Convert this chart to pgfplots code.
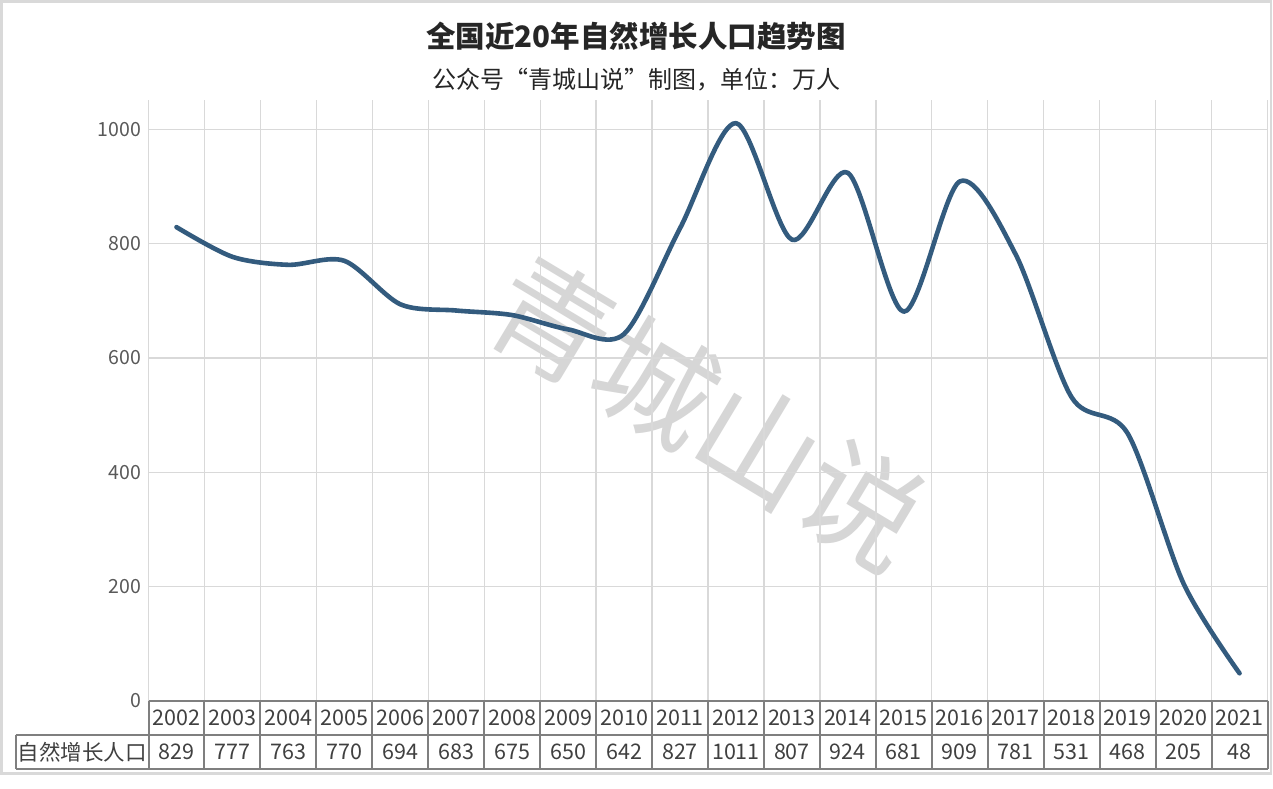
\documentclass[border=0pt]{standalone}
\usepackage{pgfplots}
\pgfplotsset{compat=1.18}
\usepackage{pgfplotstable}
\usepackage{fontspec}
\setmainfont{Noto Sans CJK SC}
\definecolor{linec}{HTML}{335B7E}
\definecolor{gridc}{HTML}{D9D9D9}
\definecolor{tabc}{HTML}{7F7F7F}
\definecolor{tickc}{HTML}{595959}
\definecolor{txtc}{HTML}{404040}
\definecolor{wmc}{HTML}{D6D6D6}

\pgfplotstableread{
x year val
0 2002 829
1 2003 777
2 2004 763
3 2005 770
4 2006 694
5 2007 683
6 2008 675
7 2009 650
8 2010 642
9 2011 827
10 2012 1011
11 2013 807
12 2014 924
13 2015 681
14 2016 909
15 2017 781
16 2018 531
17 2019 468
18 2020 205
19 2021 48
}\datatable

\begin{document}
\begin{tikzpicture}[x=1pt,y=1pt]
% canvas and outer frame
\path[use as bounding box] (0,0) rectangle (1273,-788);
\fill[white] (0,0) rectangle (1273,-788);
\draw[gridc, line width=2.5pt] (1.25,-1.25) rectangle (1271,-773.5);
% title
\node[font=\fontsize{29.5}{34}\selectfont\bfseries, text=black!85] at (636,-36) {全国近20年自然增长人口趋势图};
\node[font=\fontsize{24}{28}\selectfont, text=black!85] at (636,-80) {公众号“青城山说”制图，单位：万人};
% watermark
\node[font=\fontsize{120}{130}\selectfont, text=wmc, rotate=-31, inner sep=0pt] at (708,-413) {青城山说};
\begin{axis}[
  at={(148.5pt,-700.7pt)}, anchor=south west,
  scale only axis, width=1119pt, height=600.7pt,
  xmin=-0.5, xmax=19.5, ymin=0, ymax=1051.5,
  axis line style={draw=none},
  major tick length=0pt, minor tick length=0pt,
  xtick=data,
  xticklabels from table={\datatable}{year},
  minor xtick={-0.5,0.5,...,19.5},
  xminorgrids, ymajorgrids,
  minor x grid style={gridc, line width=1.3pt},
  major y grid style={gridc, line width=1.3pt},
  ytick={0,200,400,600,800,1000},
  /pgf/number format/assume math mode=true,
  yticklabel style={font=\fontsize{19.5}{22}\selectfont, text=tickc, xshift=-4pt, /pgf/number format/1000 sep={}},
  xticklabel style={font=\fontsize{21.5}{24}\selectfont, text=txtc, anchor=center, yshift=-17.3pt},
  scaled y ticks=false,
  clip=false,
  point meta=explicit,
]
\addplot[linec, line width=4.6pt, smooth, line cap=round, line join=round] table[x=x, y=val] {\datatable};
\addplot[draw=none, mark=none, nodes near coords={\pgfmathprintnumber[fixed, int detect, 1000 sep={}]{\pgfplotspointmeta}},
  every node near coord/.style={anchor=center, yshift=-51.5pt, font=\fontsize{21.5}{24}\selectfont, text=txtc}]
  table[x=x, y expr=0, meta=val] {\datatable};
\end{axis}
% data table grid
\begin{scope}[tabc, line width=2pt]
\draw (148.5,-700.7) -- (1267.5,-700.7);
\draw (15.7,-734.9) -- (1267.5,-734.9);
\draw (15.7,-768.8) -- (1267.5,-768.8);
\draw (15.7,-734.9) -- (15.7,-768.8);
\foreach \k in {0,...,20} {
  \draw (148.5+\k*55.95,-700.7) -- (148.5+\k*55.95,-768.8);
}
\end{scope}
\node[font=\fontsize{21.5}{24}\selectfont, text=txtc] at (82,-752) {自然增长人口};
\end{tikzpicture}
\end{document}
